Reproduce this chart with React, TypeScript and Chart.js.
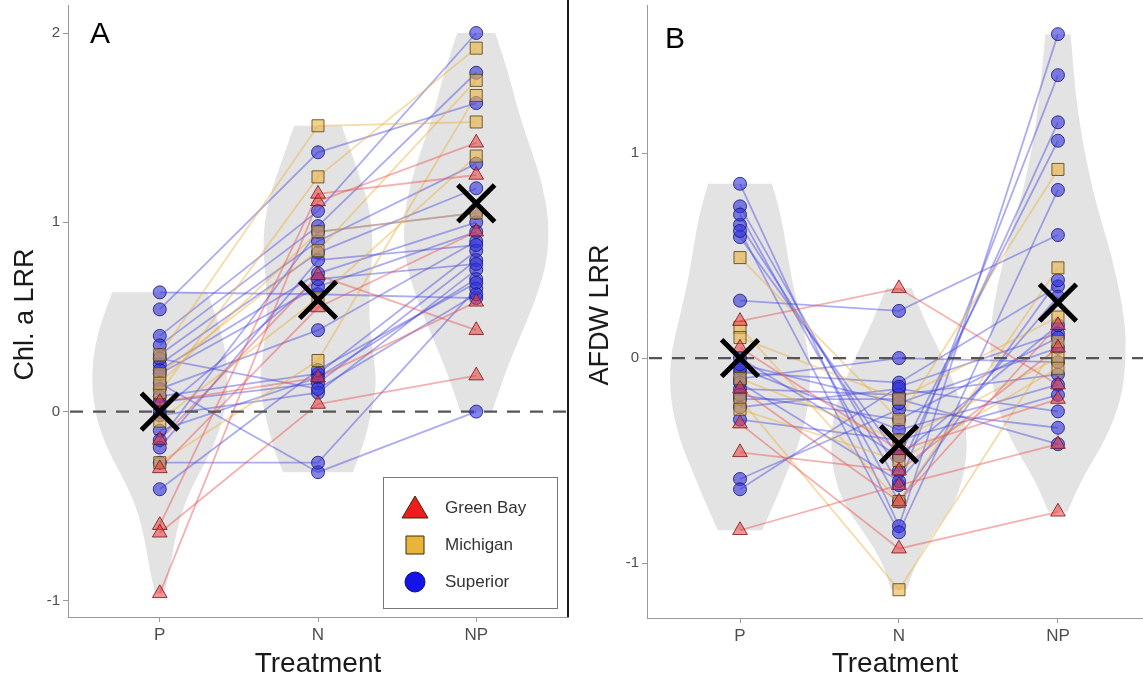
import React, { useEffect, useRef } from 'react';
import { Chart, registerables } from 'chart.js';

Chart.register(...registerables);

const treatments = ['P', 'N', 'NP'];
const lakeNames = ['Green Bay', 'Michigan', 'Superior'];

// ---------- Panel A: Chl. a LRR (per site: P, N, NP) ----------
const chlGreenBayP = [-0.96, -0.6, -0.64, -0.15, 0.05, -0.3];
const chlGreenBayN = [1.11, 1.15, 0.04, 0.72, 0.18, 0.55];
const chlGreenBayNP = [1.42, 1.25, 0.19, 0.43, 0.58, 0.95];

const chlMichiganP = [0.3, 0.1, -0.27, 0.2, -0.05, 0.15];
const chlMichiganN = [1.51, 1.24, 0.27, 0.85, 0.6, 0.95];
const chlMichiganNP = [1.53, 1.92, 1.67, 1.75, 1.35, 1.05];

const chlSuperiorP = [0.63, 0.54, 0.4, 0.35, 0.3, 0.25, 0.22, 0.2, 0.15, 0.12, 0.08, 0.05, -0.02, -0.1, -0.15, -0.19, -0.27, -0.41, 0.0, 0.28];
const chlSuperiorN = [0.62, 1.37, 1.06, 0.98, 0.9, 0.84, 0.73, 0.66, -0.32, 0.43, 0.2, 0.15, 0.1, 0.18, 0.95, 0.8, -0.27, 0.22, 0.7, 0.12];
const chlSuperiorNP = [0.6, 1.63, 2.0, 1.79, 1.31, 1.18, 1.0, 0.95, 0.0, 0.9, 0.85, 0.8, 0.75, 0.7, 1.05, 0.88, 0.65, 0.68, 0.78, 0.62];

const chlMeans = [0.0, 0.59, 1.1];
const chlTicks = [-1, 0, 1, 2];

// violin outlines: [value, half-width in category units]
const chlViolinP = [[-0.96, 0.03], [-0.85, 0.06], [-0.7, 0.09], [-0.55, 0.13], [-0.4, 0.2], [-0.25, 0.3], [-0.1, 0.38], [0.05, 0.42], [0.2, 0.43], [0.35, 0.41], [0.5, 0.36], [0.63, 0.3]];
const chlViolinN = [[-0.32, 0.22], [-0.2, 0.28], [0.0, 0.34], [0.15, 0.37], [0.3, 0.35], [0.5, 0.32], [0.7, 0.33], [0.9, 0.35], [1.1, 0.32], [1.3, 0.24], [1.51, 0.15]];
const chlViolinNP = [[0.0, 0.1], [0.2, 0.18], [0.4, 0.28], [0.6, 0.38], [0.8, 0.45], [1.0, 0.46], [1.2, 0.42], [1.4, 0.34], [1.6, 0.26], [1.8, 0.2], [2.0, 0.12]];

// ---------- Panel B: AFDW LRR ----------
const afdwGreenBayP = [0.18, -0.32, -0.46, -0.84, -0.15, 0.05];
const afdwGreenBayN = [0.34, -0.93, -0.55, -0.62, -0.7, -0.45];
const afdwGreenBayNP = [-0.13, -0.75, 0.05, -0.42, 0.16, -0.2];

const afdwMichiganP = [0.49, 0.15, -0.2, -0.1, 0.1, -0.25];
const afdwMichiganN = [-0.3, -0.7, -1.13, -0.4, -0.2, -0.5];
const afdwMichiganNP = [0.92, 0.44, 0.08, 0.0, 0.2, -0.05];

const afdwSuperiorP = [0.85, 0.74, 0.65, 0.59, 0.62, 0.28, -0.07, -0.1, -0.15, -0.24, -0.59, -0.64, 0.0, -0.05, -0.12, -0.2, -0.03, -0.3, 0.7, -0.18];
const afdwSuperiorN = [-0.82, -0.62, -0.55, -0.48, -0.85, 0.23, -0.12, 0.0, -0.18, -0.15, -0.25, -0.14, -0.48, -0.35, -0.6, -0.2, -0.22, -0.4, -0.7, -0.3];
const afdwSuperiorNP = [1.58, 1.38, 1.15, 1.06, 0.82, 0.6, 0.35, -0.02, -0.08, -0.26, -0.34, 0.12, 0.16, -0.13, 0.3, -0.42, 0.05, -0.18, 0.38, 0.1];

const afdwMeans = [0.0, -0.42, 0.27];
const afdwTicks = [-1, 0, 1];

const afdwViolinP = [[-0.84, 0.14], [-0.7, 0.22], [-0.55, 0.3], [-0.4, 0.38], [-0.2, 0.44], [0.0, 0.44], [0.2, 0.38], [0.4, 0.32], [0.6, 0.28], [0.75, 0.24], [0.85, 0.2]];
const afdwViolinN = [[-1.13, 0.05], [-1.0, 0.1], [-0.85, 0.22], [-0.7, 0.36], [-0.5, 0.43], [-0.3, 0.42], [-0.15, 0.36], [0.0, 0.28], [0.15, 0.18], [0.34, 0.08]];
const afdwViolinNP = [[-0.75, 0.06], [-0.6, 0.14], [-0.4, 0.3], [-0.2, 0.4], [0.0, 0.43], [0.2, 0.42], [0.5, 0.34], [0.8, 0.22], [1.2, 0.12], [1.58, 0.08]];

const FONT = '"Liberation Sans", Arial, Helvetica, sans-serif';

const lakeStyles = [
  { line: 'rgba(232,80,80,0.45)', fill: 'rgba(235,60,60,0.55)', border: 'rgba(120,20,20,0.8)', point: 'triangle', radius: 8.5, legendFill: '#ee1c1c' },
  { line: 'rgba(235,175,60,0.45)', fill: 'rgba(235,180,70,0.6)', border: 'rgba(90,70,20,0.85)', point: 'rect', radius: 8.5, legendFill: '#e8b43c' },
  { line: 'rgba(70,70,225,0.45)', fill: 'rgba(50,50,220,0.6)', border: 'rgba(20,20,120,0.8)', point: 'circle', radius: 6.5, legendFill: '#1414e8' },
];

type Lake = { P: number[]; N: number[]; NP: number[] };
type Panel = {
  lakes: Lake[];
  means: number[];
  violins: number[][][];
  ticks: number[];
  xMin: number;
  xMax: number;
  yMin: number;
  yMax: number;
  yTitle: string;
  label: string;
  yAxisWidth: number;
  xAxisHeight: number;
  titlePad: number;
  padding: { top: number; right: number; left: number; bottom: number };
  legend: boolean;
  rightBorder: boolean;
  labelOffset: [number, number];
};

const panelA: Panel = {
  lakes: [
    { P: chlGreenBayP, N: chlGreenBayN, NP: chlGreenBayNP },
    { P: chlMichiganP, N: chlMichiganN, NP: chlMichiganNP },
    { P: chlSuperiorP, N: chlSuperiorN, NP: chlSuperiorNP },
  ],
  means: chlMeans,
  violins: [chlViolinP, chlViolinN, chlViolinNP],
  ticks: chlTicks,
  xMin: 0.42,
  xMax: 3.58,
  yMin: -1.085,
  yMax: 2.111,
  yTitle: 'Chl. a LRR',
  label: 'A',
  yAxisWidth: 68,
  xAxisHeight: 68,
  titlePad: 9,
  padding: { top: 4, right: 2, left: 0, bottom: 0 },
  legend: true,
  rightBorder: true,
  labelOffset: [32, 23],
};

const panelB: Panel = {
  lakes: [
    { P: afdwGreenBayP, N: afdwGreenBayN, NP: afdwGreenBayNP },
    { P: afdwMichiganP, N: afdwMichiganN, NP: afdwMichiganNP },
    { P: afdwSuperiorP, N: afdwSuperiorN, NP: afdwSuperiorNP },
  ],
  means: afdwMeans,
  violins: [afdwViolinP, afdwViolinN, afdwViolinNP],
  ticks: afdwTicks,
  xMin: 0.415,
  xMax: 3.535,
  yMin: -1.268,
  yMax: 1.688,
  yTitle: 'AFDW LRR',
  label: 'B',
  yAxisWidth: 77,
  xAxisHeight: 67,
  titlePad: 14,
  padding: { top: 5, right: 0, left: 0, bottom: 0 },
  legend: false,
  rightBorder: false,
  labelOffset: [28, 28],
};

function smoothPath(ctx: CanvasRenderingContext2D, pts: { x: number; y: number }[], move: boolean) {
  if (move) ctx.moveTo(pts[0].x, pts[0].y);
  else ctx.lineTo(pts[0].x, pts[0].y);
  for (let i = 1; i < pts.length - 1; i++) {
    const mx = (pts[i].x + pts[i + 1].x) / 2;
    const my = (pts[i].y + pts[i + 1].y) / 2;
    ctx.quadraticCurveTo(pts[i].x, pts[i].y, mx, my);
  }
  const last = pts[pts.length - 1];
  ctx.lineTo(last.x, last.y);
}

function makeDecoPlugin(panel: Panel) {
  return {
    id: 'panelDeco',
    beforeDatasetsDraw(chart: any) {
      const { ctx, chartArea, scales } = chart;
      const xs = scales.x;
      const ys = scales.y;
      ctx.save();
      ctx.beginPath();
      ctx.rect(chartArea.left, chartArea.top, chartArea.right - chartArea.left, chartArea.bottom - chartArea.top);
      ctx.clip();
      ctx.fillStyle = 'rgba(185,185,185,0.4)';
      panel.violins.forEach((profile, t) => {
        const c = t + 1;
        const right = profile.map(([y, w]) => ({ x: xs.getPixelForValue(c + w), y: ys.getPixelForValue(y) }));
        const left = profile
          .slice()
          .reverse()
          .map(([y, w]) => ({ x: xs.getPixelForValue(c - w), y: ys.getPixelForValue(y) }));
        ctx.beginPath();
        smoothPath(ctx, right, true);
        smoothPath(ctx, left, false);
        ctx.closePath();
        ctx.fill();
      });
      ctx.restore();
    },
    afterDatasetDraw(chart: any, args: any) {
      const ds = chart.data.datasets[args.index];
      if (!ds || ds.label !== '__zero') return;
      const { ctx, chartArea, scales } = chart;
      const y = scales.y.getPixelForValue(0);
      ctx.save();
      ctx.strokeStyle = '#555555';
      ctx.lineWidth = 2.2;
      ctx.setLineDash([13, 10]);
      ctx.beginPath();
      ctx.moveTo(chartArea.left + 2, y);
      ctx.lineTo(chartArea.right, y);
      ctx.stroke();
      ctx.restore();
    },
    afterDraw(chart: any) {
      const { ctx, chartArea } = chart;
      ctx.save();
      // y axis line extended to the panel top
      ctx.strokeStyle = '#999';
      ctx.lineWidth = 1;
      ctx.beginPath();
      ctx.moveTo(chartArea.left + 0.5, chartArea.top);
      ctx.lineTo(chartArea.left + 0.5, 5);
      ctx.stroke();

      // panel label
      ctx.fillStyle = '#000';
      ctx.font = `30px ${FONT}`;
      ctx.textAlign = 'center';
      ctx.textBaseline = 'middle';
      ctx.fillText(panel.label, chartArea.left + panel.labelOffset[0], chartArea.top + panel.labelOffset[1]);

      if (panel.rightBorder) {
        ctx.strokeStyle = '#1a1a1a';
        ctx.lineWidth = 2;
        ctx.setLineDash([]);
        ctx.beginPath();
        ctx.moveTo(chartArea.right, 0);
        ctx.lineTo(chartArea.right, chartArea.bottom);
        ctx.stroke();
      }

      if (panel.legend) {
        const bw = 174;
        const bh = 131;
        const bx = chartArea.right - 11 - bw;
        const by = chartArea.bottom - 9 - bh;
        ctx.fillStyle = '#ffffff';
        ctx.fillRect(bx, by, bw, bh);
        ctx.strokeStyle = '#777';
        ctx.lineWidth = 1;
        ctx.strokeRect(bx + 0.5, by + 0.5, bw, bh);
        lakeNames.forEach((name, i) => {
          const cy = by + 31 + i * 37;
          const cx = bx + 32;
          const st = lakeStyles[i];
          ctx.fillStyle = st.legendFill;
          ctx.strokeStyle = i === 2 ? '#0a0a90' : '#3a2a10';
          ctx.lineWidth = 1;
          ctx.beginPath();
          if (i === 0) {
            ctx.moveTo(cx, cy - 12);
            ctx.lineTo(cx + 13, cy + 10);
            ctx.lineTo(cx - 13, cy + 10);
            ctx.closePath();
          } else if (i === 1) {
            ctx.rect(cx - 9, cy - 9, 18, 18);
          } else {
            ctx.arc(cx, cy, 10, 0, Math.PI * 2);
          }
          ctx.fill();
          ctx.stroke();
          ctx.fillStyle = '#333';
          ctx.font = `17px ${FONT}`;
          ctx.textAlign = 'left';
          ctx.textBaseline = 'middle';
          ctx.fillText(name, bx + 62, cy);
        });
      }
      ctx.restore();
    },
  };
}

function buildConfig(panel: Panel): any {
  const datasets: any[] = [];
  panel.lakes.forEach((lake, li) => {
    const st = lakeStyles[li];
    lake.P.forEach((_, i) => {
      datasets.push({
        label: `${lakeNames[li]} ${i + 1}`,
        data: [lake.P[i], lake.N[i], lake.NP[i]].map((y, t) => ({ x: t + 1, y })),
        showLine: true,
        borderColor: st.line,
        borderWidth: 1.8,
        pointRadius: 0,
        order: 3,
      });
    });
  });
  datasets.push({ label: '__zero', data: [], pointRadius: 0, order: 2 });
  panel.lakes.forEach((lake, li) => {
    const st = lakeStyles[li];
    const pts: { x: number; y: number }[] = [];
    [lake.P, lake.N, lake.NP].forEach((arr, t) => arr.forEach((y) => pts.push({ x: t + 1, y })));
    datasets.push({
      label: lakeNames[li],
      data: pts,
      showLine: false,
      pointStyle: st.point,
      pointRadius: st.radius,
      backgroundColor: st.fill,
      borderColor: st.border,
      borderWidth: 1,
      order: 1,
    });
  });
  datasets.push({
    label: 'Mean',
    data: panel.means.map((y, t) => ({ x: t + 1, y })),
    showLine: false,
    pointStyle: 'crossRot',
    pointRadius: 26,
    borderColor: '#000',
    borderWidth: 5,
    order: 0,
  });

  return {
    type: 'scatter',
    data: { datasets },
    plugins: [makeDecoPlugin(panel)],
    options: {
      animation: false,
      responsive: false,
      maintainAspectRatio: false,
      events: [],
      layout: { padding: panel.padding, autoPadding: false },
      plugins: { legend: { display: false }, tooltip: { enabled: false } },
      scales: {
        x: {
          type: 'linear',
          min: panel.xMin,
          max: panel.xMax,
          afterBuildTicks: (s: any) => {
            s.ticks = treatments.map((_, i) => ({ value: i + 1 }));
          },
          afterFit: (s: any) => {
            s.height = panel.xAxisHeight;
          },
          ticks: {
            callback: (v: number) => treatments[Math.round(v) - 1] ?? '',
            color: '#4d4d4d',
            font: { size: 17, family: FONT },
            padding: 3,
            maxRotation: 0,
          },
          grid: { drawOnChartArea: false, drawTicks: true, tickLength: 5, color: '#999' },
          border: { display: true, color: '#999', width: 1 },
          title: { display: true, text: 'Treatment', color: '#1a1a1a', font: { size: 28, family: FONT }, padding: { top: 0, bottom: 4 } },
        },
        y: {
          type: 'linear',
          min: panel.yMin,
          max: panel.yMax,
          afterBuildTicks: (s: any) => {
            s.ticks = panel.ticks.map((v) => ({ value: v }));
          },
          afterFit: (s: any) => {
            s.width = panel.yAxisWidth;
          },
          ticks: {
            callback: (v: number) => String(v),
            color: '#4d4d4d',
            font: { size: 15, family: FONT },
            padding: 3,
          },
          grid: { drawOnChartArea: false, drawTicks: true, tickLength: 5, color: '#999' },
          border: { display: true, color: '#999', width: 1 },
          title: { display: true, text: panel.yTitle, color: '#1a1a1a', font: { size: 27, family: FONT }, padding: { top: panel.titlePad, bottom: 0 } },
        },
      },
    },
  };
}

function PanelChart({ panel, left, width }: { panel: Panel; left: number; width: number }) {
  const ref = useRef<HTMLCanvasElement | null>(null);
  useEffect(() => {
    if (!ref.current) return;
    const chart = new Chart(ref.current, buildConfig(panel));
    return () => chart.destroy();
  }, [panel]);
  return (
    <canvas
      ref={ref}
      width={width}
      height={685}
      style={{ position: 'absolute', left, top: 0, width, height: 685 }}
    />
  );
}

export default function App() {
  return (
    <div style={{ position: 'fixed', left: 0, top: 0, width: 1143, height: 685, background: '#fff', overflow: 'hidden' }}>
      <PanelChart panel={panelA} left={0} width={570} />
      <PanelChart panel={panelB} left={570} width={573} />
    </div>
  );
}
